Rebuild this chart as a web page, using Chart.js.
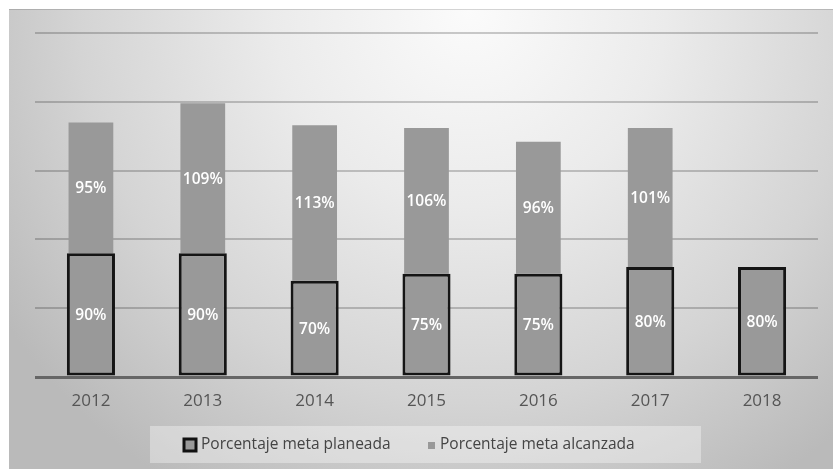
<!DOCTYPE html>
<html>
<head>
<meta charset="utf-8">
<script src="https://cdn.jsdelivr.net/npm/chart.js@4/dist/chart.umd.min.js"></script>
<style>
html,body{margin:0;padding:0;background:#fff;}
#wrap{width:833px;height:469px;position:relative;}
</style>
</head>
<body>
<div id="wrap"><canvas id="c" width="833" height="469"></canvas></div>
<script>
const categories = ['2012','2013','2014','2015','2016','2017','2018'];
const planeada = [90, 90, 70, 75, 75, 80, 80];
const alcanzada = [95, 109, 113, 106, 96, 101, null];
const seriesNames = ['Porcentaje meta planeada', 'Porcentaje meta alcanzada'];
const yTicks = [0, 50, 100, 150, 200, 250];

const FONT = '"Open Sans", "Liberation Sans", sans-serif';

const bgPlugin = {
  id: 'bg',
  beforeDraw(chart) {
    const ctx = chart.ctx;
    const W = chart.width, H = chart.height;
    ctx.save();
    ctx.fillStyle = '#ffffff';
    ctx.fillRect(0, 0, W, H);
    const g = ctx.createRadialGradient(470, 10, 0, 470, 10, 560);
    g.addColorStop(0, '#fbfbfb');
    g.addColorStop(0.35, '#ebebeb');
    g.addColorStop(0.7, '#d4d4d4');
    g.addColorStop(1, '#bababa');
    ctx.fillStyle = g;
    ctx.fillRect(9, 9, W - 9, H - 9);
    ctx.fillStyle = 'rgba(0,0,0,0.15)';
    ctx.fillRect(9, 9, W - 9, 1);
    ctx.restore();
  }
};

const labelPlugin = {
  id: 'vals',
  afterDatasetsDraw(chart) {
    const ctx = chart.ctx;
    ctx.save();
    ctx.fillStyle = '#ffffff';
    ctx.font = '600 15.5px ' + FONT;
    ctx.textAlign = 'center';
    ctx.textBaseline = 'middle';
    chart.data.datasets.forEach((ds, di) => {
      const meta = chart.getDatasetMeta(di);
      meta.data.forEach((el, i) => {
        const v = ds.data[i];
        if (v === null || v === undefined) return;
        ctx.fillText(v + '%', el.x, (el.y + el.base) / 2 + 1);
      });
    });
    ctx.restore();
  }
};

const legendPlugin = {
  id: 'customLegend',
  afterDraw(chart) {
    const ctx = chart.ctx;
    ctx.save();
    ctx.fillStyle = 'rgba(255,255,255,0.35)';
    ctx.fillRect(150, 426, 551, 37);
    const cy = 445;
    ctx.fillStyle = '#999999';
    ctx.fillRect(184, cy - 6, 12, 12);
    ctx.strokeStyle = '#111111';
    ctx.lineWidth = 3;
    ctx.strokeRect(184, cy - 6, 12, 12);
    ctx.fillStyle = '#444444';
    ctx.font = '15.5px ' + FONT;
    ctx.textBaseline = 'middle';
    ctx.textAlign = 'left';
    ctx.fillText(seriesNames[0], 201, cy);
    ctx.fillStyle = '#999999';
    ctx.fillRect(428, cy - 3, 7, 7);
    ctx.fillStyle = '#444444';
    ctx.fillText(seriesNames[1], 440, cy);
    ctx.restore();
  }
};

new Chart(document.getElementById('c'), {
  type: 'bar',
  data: {
    labels: categories,
    datasets: [
      {
        label: seriesNames[0],
        data: planeada,
        backgroundColor: '#999999',
        borderColor: '#151515',
        borderWidth: 3,
        borderSkipped: false,
        barPercentage: 0.43,
        categoryPercentage: 1.0
      },
      {
        label: seriesNames[1],
        data: alcanzada,
        backgroundColor: '#999999',
        borderWidth: 0,
        barPercentage: 0.40,
        categoryPercentage: 1.0
      }
    ]
  },
  options: {
    responsive: false,
    animation: false,
    events: [],
    layout: { padding: { left: 35, right: 15, top: 33, bottom: 0 } },
    plugins: { legend: { display: false }, tooltip: { enabled: false } },
    scales: {
      x: {
        stacked: true,
        grid: { display: false },
        border: { display: false },
        ticks: { color: '#555555', font: { family: FONT, size: 17 }, padding: 6 },
        afterFit(s) { s.height = 92; }
      },
      y: {
        stacked: true,
        min: yTicks[0],
        max: yTicks[yTicks.length - 1],
        afterBuildTicks(s) { s.ticks = yTicks.map(v => ({ value: v })); },
        ticks: { display: false },
        border: { display: false },
        grid: {
          drawTicks: false,
          color: (c) => c.tick && c.tick.value === 0 ? '#666666' : 'rgba(0,0,0,0.2)',
          lineWidth: (c) => c.tick && c.tick.value === 0 ? 3 : 2
        },
        afterFit(s) { s.width = 0; }
      }
    }
  },
  plugins: [bgPlugin, labelPlugin, legendPlugin]
});
</script>
</body>
</html>
